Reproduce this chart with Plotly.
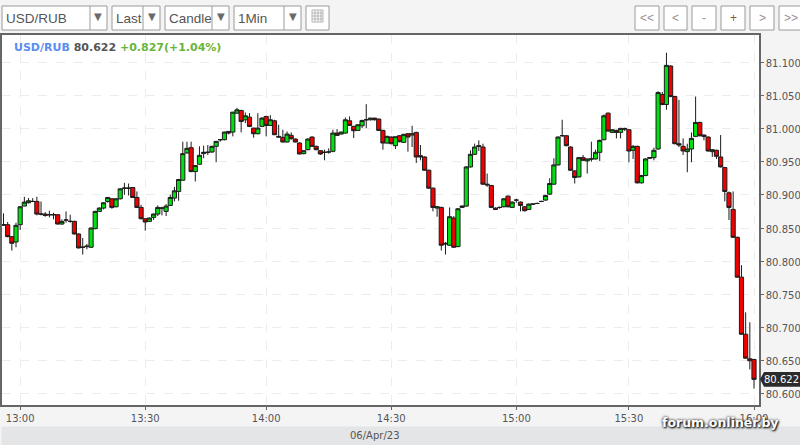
import plotly.graph_objects as go

opens = [80.854,80.855,80.837,80.829,80.855,80.883,80.888,80.890,80.890,80.871,
80.871,80.870,80.870,80.870,80.856,80.862,80.860,80.860,80.841,80.821,
80.823,80.821,80.849,80.875,80.880,80.890,80.894,80.882,80.894,80.910,
80.910,80.911,80.896,80.881,80.864,80.860,80.866,80.871,80.880,80.875,
80.884,80.895,80.905,80.922,80.963,80.971,80.935,80.946,80.962,80.964,
80.9645,80.973,80.983,80.983,80.9955,80.9945,81.023,81.027,81.013,81.017,
81.0005,80.992,81.003,81.018,81.0045,81.0115,80.988,80.9865,80.9795,80.9895,
80.984,80.978,80.962,80.968,80.987,80.973,80.9665,80.964,80.9645,80.9655,
80.993,80.9915,80.993,81.0115,81.003,80.997,81.004,81.013,81.013,81.0155,
81.014,80.997,80.978,80.987,80.974,80.989,80.979,80.992,80.990,80.994,
80.959,80.957,80.937,80.910,80.880,80.881,80.827,80.824,80.865,80.822,
80.881,80.883,80.942,80.961,80.974,80.972,80.916,80.914,80.880,80.881,
80.882,80.898,80.881,80.892,80.889,80.882,80.878,80.886,80.887,80.890,
80.892,80.901,80.916,80.945,80.989,80.989,80.972,80.936,80.927,80.956,
80.951,80.954,80.954,80.964,80.983,81.023,80.994,80.997,80.994,81.000,
80.998,80.967,80.973,80.918,80.929,80.955,80.956,80.969,81.051,81.036,
81.094,81.048,80.977,80.973,80.965,80.969,80.988,81.009,80.990,80.987,
80.965,80.967,80.957,80.941,80.903,80.878,80.836,80.776,80.690,80.653,80.652]

closes = [80.855,80.837,80.827,80.854,80.882,80.889,80.891,80.890,80.871,80.871,
80.869,80.870,80.870,80.856,80.860,80.862,80.860,80.841,80.820,80.821,
80.822,80.850,80.875,80.880,80.888,80.896,80.881,80.894,80.909,80.910,
80.910,80.896,80.881,80.864,80.859,80.865,80.871,80.881,80.880,80.883,
80.896,80.906,80.923,80.962,80.970,80.935,80.944,80.9595,80.964,80.964,
80.973,80.9805,80.983,80.9945,80.993,81.0245,81.028,81.0105,81.019,81.003,
80.992,81.0005,81.0155,81.0045,81.013,80.9905,80.987,80.9795,80.9915,80.9845,
80.9795,80.9615,80.9665,80.984,80.973,80.968,80.9615,80.964,80.9645,80.993,
80.9895,80.9945,81.013,81.0045,80.9965,81.0055,81.012,81.013,81.0155,81.013,
80.997,80.978,80.988,80.977,80.9875,80.980,80.991,80.987,80.992,80.957,
80.957,80.937,80.910,80.881,80.882,80.824,80.826,80.867,80.821,80.879,
80.883,80.942,80.961,80.972,80.973,80.916,80.915,80.881,80.878,80.881,
80.894,80.882,80.889,80.892,80.884,80.876,80.886,80.886,80.887,80.890,
80.899,80.917,80.945,80.987,80.989,80.974,80.937,80.926,80.956,80.952,
80.954,80.954,80.964,80.982,81.019,80.996,80.998,80.994,81.000,80.999,
80.966,80.973,80.918,80.929,80.954,80.956,80.967,81.054,81.036,81.095,
81.048,80.977,80.975,80.966,80.969,80.985,81.009,80.989,80.988,80.966,
80.968,80.958,80.942,80.905,80.881,80.836,80.776,80.690,80.654,80.650,80.622]

highs = [80.872,80.859,80.837,80.858,80.883,80.897,80.895,80.895,80.897,80.890,
80.874,80.876,80.873,80.871,80.863,80.875,80.870,80.861,80.842,80.835,
80.826,80.851,80.876,80.881,80.889,80.896,80.895,80.895,80.910,80.918,
80.917,80.911,80.905,80.885,80.864,80.866,80.872,80.884,80.882,80.886,
80.900,80.912,80.924,80.980,80.980,80.980,80.945,80.973,80.974,80.975,
80.974,80.981,80.984,80.995,80.996,81.025,81.031,81.028,81.024,81.023,
81.001,81.023,81.017,81.019,81.020,81.013,81.0055,80.998,80.9955,80.994,
80.985,80.979,80.967,80.985,80.988,80.974,80.967,80.968,80.970,80.998,
80.999,80.995,81.0165,81.018,81.004,81.006,81.013,81.0365,81.016,81.016,
81.015,80.998,80.989,80.988,80.988,80.990,80.992,80.993,81.004,80.995,
80.975,80.958,80.938,80.911,80.883,80.882,80.829,80.881,80.868,80.880,
80.884,80.943,80.967,80.977,80.982,80.977,80.932,80.915,80.881,80.882,
80.895,80.899,80.890,80.894,80.890,80.883,80.887,80.887,80.888,80.891,
80.900,80.925,80.955,80.988,81.013,80.990,80.973,80.937,80.957,80.960,
80.955,80.980,80.968,80.983,81.021,81.024,80.999,80.998,81.001,81.001,
80.999,80.975,80.974,80.930,80.955,80.957,80.971,81.056,81.055,81.114,
81.095,81.049,81.043,80.985,80.977,80.994,81.048,81.010,80.991,80.988,
80.969,80.968,80.990,80.942,80.905,80.905,80.837,80.794,80.723,80.708,80.653]

lows = [80.854,80.836,80.816,80.821,80.847,80.883,80.887,80.889,80.869,80.869,
80.867,80.866,80.863,80.855,80.855,80.858,80.858,80.840,80.819,80.810,
80.818,80.820,80.848,80.875,80.878,80.888,80.879,80.881,80.893,80.900,
80.899,80.895,80.880,80.863,80.846,80.859,80.862,80.868,80.869,80.868,
80.883,80.890,80.891,80.921,80.962,80.934,80.920,80.946,80.955,80.960,
80.963,80.949,80.980,80.982,80.991,80.988,81.022,80.994,81.008,81.002,
80.986,80.991,81.002,80.988,81.004,80.990,80.986,80.979,80.979,80.983,
80.979,80.961,80.961,80.967,80.972,80.967,80.960,80.952,80.962,80.964,
80.989,80.991,80.992,81.004,80.9855,80.996,81.0005,81.0005,81.012,81.012,
80.996,80.968,80.977,80.976,80.969,80.979,80.978,80.965,80.972,80.948,
80.952,80.936,80.909,80.875,80.867,80.816,80.810,80.823,80.820,80.821,
80.880,80.882,80.941,80.960,80.966,80.915,80.912,80.880,80.877,80.879,
80.881,80.881,80.880,80.888,80.875,80.875,80.877,80.885,80.886,80.889,
80.891,80.900,80.915,80.944,80.988,80.973,80.936,80.917,80.926,80.951,
80.932,80.950,80.953,80.951,80.982,80.995,80.993,80.985,80.985,80.996,
80.949,80.954,80.917,80.917,80.928,80.954,80.952,80.968,81.035,81.028,
81.047,80.976,80.972,80.960,80.934,80.949,80.987,80.988,80.982,80.965,
80.957,80.954,80.941,80.890,80.862,80.835,80.775,80.689,80.653,80.637,80.608]

assert len(opens) == len(closes) == len(highs) == len(lows) == 181

time_tick_index = [4, 34, 63, 93, 123, 150, 180]
time_tick_labels = ["13:00", "13:30", "14:00", "14:30", "15:00", "15:30", "16:00"]
price_ticks = [80.60, 80.65, 80.70, 80.75, 80.80, 80.85, 80.90, 80.95, 81.00, 81.05, 81.10]
last_price = 80.622

# plot-area box in window pixels
L, R, T, B = 2, 759, 35, 405
W, H = 800, 445
def px(x): return (x - L) / (R - L)
def py(y): return (B - y) / (B - T)

GRID = "#ececec"
TXT = "#555555"
FONT = "DejaVu Sans"

fig = go.Figure(go.Candlestick(
    x=list(range(len(opens))), open=opens, high=highs, low=lows, close=closes,
    increasing=dict(line=dict(color="#1c1c1c", width=1), fillcolor="#00e010"),
    decreasing=dict(line=dict(color="#1c1c1c", width=1), fillcolor="#f00000"),
    whiskerwidth=0, showlegend=False, hoverinfo="skip",
))

shapes = []
annotations = []

def box(x0, y0, x1, y1, line="#9a9a9a", fill="white", w=1):
    shapes.append(dict(type="rect", xref="paper", yref="paper", x0=px(x0), x1=px(x1),
                       y0=py(y1), y1=py(y0), line=dict(color=line, width=w), fillcolor=fill, layer="below"))

def vline(x, y0, y1, line="#9a9a9a"):
    shapes.append(dict(type="line", xref="paper", yref="paper", x0=px(x), x1=px(x),
                       y0=py(y1), y1=py(y0), line=dict(color=line, width=1), layer="above"))

def hline(x0, x1, y, line="#aaaaaa"):
    shapes.append(dict(type="line", xref="paper", yref="paper", x0=px(x0), x1=px(x1),
                       y0=py(y), y1=py(y), line=dict(color=line, width=1), layer="above"))

def text(x, y, s, size=12, color=TXT, anchor="center", family="Liberation Sans", **kw):
    annotations.append(dict(xref="paper", yref="paper", x=px(x), y=py(y), text=s, showarrow=False,
                            xanchor=anchor, yanchor="middle", font=dict(size=size, color=color, family=family), **kw))

# toolbar dropdowns
for x0, xd, x1, label in [(2, 90, 107, "USD/RUB"), (112, 143, 160, "Last"),
                          (165, 212, 229, "Candle"), (234, 284, 301, "1Min")]:
    box(x0, 6, x1, 30)
    vline(xd, 6, 30)
    text(x0 + 2, 18, label, size=13.5, color="#555555", anchor="left")
    text((xd + x1) / 2, 16, "▼", size=10, color="#6a6a6a", family="DejaVu Sans")

# table icon button
box(306, 6, 329, 30)
box(312, 10, 323, 22, line="#b5b5b5", fill="white")
for yy in (13, 16, 19):
    hline(312, 323, yy, "#b5b5b5")
for xx in (315, 318, 321):
    vline(xx, 10, 22, "#b5b5b5")

# navigation buttons
for x0, x1, label in [(635, 659, "<<"), (664, 687, "<"), (692, 716, "-"),
                      (721, 745, "+"), (750, 774, ">"), (779, 803, ">>")]:
    box(x0, 6, x1, 30)
    text((x0 + x1) / 2, 18, label, size=12, color="#9a8f8f" if label != "+" else "#8a5a3a")

# date band
box(2, 427, 801, 446, line="#e4e5e6", fill="#e4e5e6")
text(375, 435.5, "06/Apr/23", size=10, color="#555555", family=FONT)

# headline
text(12, 47,
     "<b><span style='color:#5b8df0'>USD/RUB</span> <span style='color:#555555'>80.622</span> "
     "<span style='color:#69b53c'>+0.827(+1.04%)</span></b>",
     size=11, anchor="left", family=FONT)

# last price tag
shapes.append(dict(type="path", xref="paper", yref="y",
                   path=f"M {px(760)} {last_price} L {px(764)} {last_price + 0.011} L {px(801)} {last_price + 0.011} "
                        f"L {px(801)} {last_price - 0.011} L {px(764)} {last_price - 0.011} Z",
                   fillcolor="#2b2b2b", line=dict(width=0), layer="above"))
annotations.append(dict(xref="paper", yref="y", x=px(762), y=last_price, text="80.622", showarrow=False,
                        xanchor="left", yanchor="middle", font=dict(size=10, color="#ffffff", family=FONT)))

# watermark
annotations.append(dict(xref="paper", yref="paper", x=px(720), y=py(422), text="<b>forum.onliner.by</b>", showarrow=False,
                        xanchor="center", yanchor="middle",
                        font=dict(size=12.5, color="#ffffff", family=FONT, shadow="1px 1px 2px #000, 0 0 3px #000")))

fig.update_layout(
    width=W, height=H,
    margin=dict(l=L, r=W - R, t=T, b=H - B, autoexpand=False),
    paper_bgcolor="#f4f4f5", plot_bgcolor="#ffffff",
    shapes=shapes, annotations=annotations, boxmode="overlay", boxgap=0, boxgroupgap=0,
    hovermode=False,
    xaxis=dict(
        range=[-0.36, 181.2], rangeslider=dict(visible=False),
        tickmode="array", tickvals=time_tick_index, ticktext=time_tick_labels,
        showgrid=True, gridcolor=GRID, griddash="dash", gridwidth=1,
        showline=True, mirror=True, linecolor="#666666", linewidth=1.5,
        ticks="outside", ticklen=3, tickcolor="#666666",
        tickfont=dict(family=FONT, size=10, color=TXT), zeroline=False,
    ),
    yaxis=dict(
        side="right", range=[80.5834, 81.1407],
        tickmode="array", tickvals=price_ticks, tickformat=".3f", ticklabelshift=1,
        showgrid=True, gridcolor=GRID, griddash="dash", gridwidth=1,
        showline=True, mirror=True, linecolor="#666666", linewidth=1.5,
        ticks="outside", ticklen=3, tickcolor="#666666",
        tickfont=dict(family=FONT, size=10, color=TXT), zeroline=False,
    ),
)

fig.write_html("out.html", config=dict(displayModeBar=False),
               post_script="document.body.style.margin='0';document.body.style.overflow='hidden';")
